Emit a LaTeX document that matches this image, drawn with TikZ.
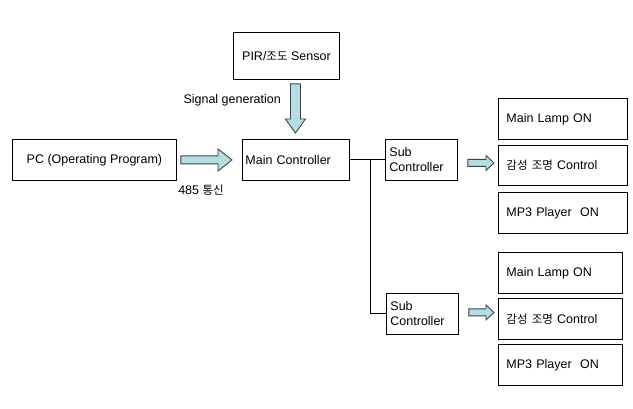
\documentclass[tikz,border=0pt]{standalone}
\usepackage{fontspec}
\setmainfont{Liberation Sans}
\newfontfamily\kr{Noto Sans CJK KR}
\usetikzlibrary{calc}
\definecolor{arrowfill}{RGB}{183,221,228}
\definecolor{arrowline}{RGB}{60,70,70}
\newcommand{\krt}[1]{{\kr\fontsize{11.5}{12}\selectfont #1}}
\tikzset{
  box/.style={draw=black, line width=0.9pt, anchor=north west, inner ysep=0pt,
    font=\fontsize{12.5}{15}\selectfont},
  lbox/.style={box, align=left},
  wire/.style={draw=black, line width=0.9pt},
  barrow/.style={draw=arrowline, fill=arrowfill, line width=0.9pt, line join=miter},
  lbl/.style={font=\fontsize{12.5}{15}\selectfont, inner sep=0pt}
}
% horizontal block arrow: #1 start, #2 end (same y), #3 shaft half, #4 head half, #5 head length
\newcommand{\harrow}[5]{%
  \path[barrow] let \p1=(#1), \p2=(#2) in
    (\x1,\y1+#3) -- (\x2-#5,\y1+#3) -- (\x2-#5,\y1+#4) -- (\x2,\y1) --
    (\x2-#5,\y1-#4) -- (\x2-#5,\y1-#3) -- (\x1,\y1-#3) -- cycle;}
\newcommand{\varrow}[5]{%
  \path[barrow] let \p1=(#1), \p2=(#2) in
    (\x1-#3,\y1) -- (\x1-#3,\y2+#5) -- (\x1-#4,\y2+#5) -- (\x1,\y2) --
    (\x1+#4,\y2+#5) -- (\x1+#3,\y2+#5) -- (\x1+#3,\y1) -- cycle;}
\begin{document}
\begin{tikzpicture}[x=1pt,y=-1pt]
\fill[white] (0,0) rectangle (633,409);
\useasboundingbox (0,0) rectangle (633,409);

\node[box, minimum width=106pt, minimum height=47pt, inner xsep=0pt] (pir) at (233,32) {PIR/\krt{조도} Sensor};
\node[box, minimum width=164pt, minimum height=41pt, inner xsep=0pt] (pc) at (12,139) {PC (Operating Program)};
\node[lbox, text width=101pt, inner xsep=3pt, minimum height=41pt] (main) at (242,139) {Main Controller};

\node[lbox, text width=64pt, inner xsep=4pt, minimum height=41pt] (sub1) at (385,139) {Sub\\Controller};
\node[lbox, text width=64pt, inner xsep=4pt, minimum height=41pt] (sub2) at (386,293) {Sub\\Controller};

\node[lbox, text width=113pt, inner xsep=8pt, minimum height=41pt] (lamp1) at (498,98) {Main Lamp ON};
\node[lbox, text width=113pt, inner xsep=8pt, minimum height=40pt] (ctl1) at (498,145) {\krt{감성 조명} Control};
\node[lbox, text width=113pt, inner xsep=8pt, minimum height=41pt] (mp31) at (498,192) {MP3 Player\ \ ON};

\node[lbox, text width=108pt, inner xsep=8pt, minimum height=41pt] (lamp2) at (498,252) {Main Lamp ON};
\node[lbox, text width=108pt, inner xsep=8pt, minimum height=41pt] (ctl2) at (498,298) {\krt{감성 조명} Control};
\node[lbox, text width=108pt, inner xsep=8pt, minimum height=41pt] (mp32) at (498,344) {MP3 Player\ \ ON};

% labels
\node[lbl, anchor=east] (sig) at (281,100) {Signal generation};
\node[lbl, anchor=north] (rs) at (201,185) {485 \krt{통신}};

% block arrows
\coordinate (va1) at ($(pir.south)+(9,4)$);
\coordinate (va2) at ($(main.north)+(-7.5,-6)$);
\varrow{va1}{va2}{5}{10}{14}
\coordinate (ha1) at ($(pc.east)+(4,0)$);
\coordinate (ha2) at ($(main.west)+(-10,0)$);
\harrow{ha1}{ha2}{4}{11}{14}
\coordinate (sa1) at ($(sub1.east)+(10,3)$);
\coordinate (sa2) at ($(ctl1.west)+(-4,-3)$);
\harrow{sa1}{sa2}{3.5}{7.5}{8}
\coordinate (sb1) at ($(sub2.east)+(10,-1.5)$);
\coordinate (sb2) at ($(ctl2.west)+(-4,-6.5)$);
\harrow{sb1}{sb2}{3.5}{7.5}{8}

% wires
\coordinate (jn) at ($(main.east)!0.5!(sub1.west)+(3,0)$);
\draw[wire] (main.east) -- (sub1.west);
\draw[wire] (jn) |- (sub2.west);
\end{tikzpicture}
\end{document}
